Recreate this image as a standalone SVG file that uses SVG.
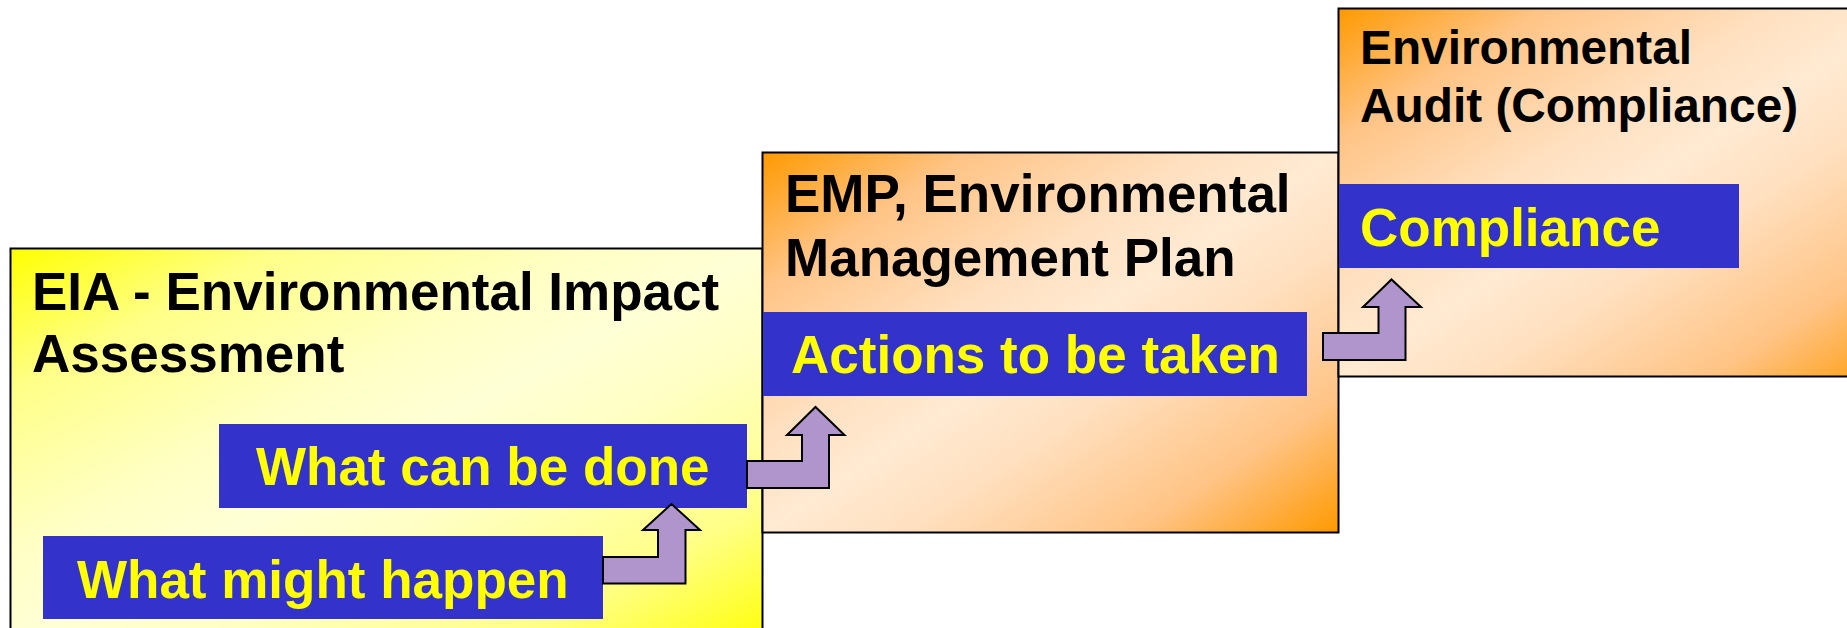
<svg xmlns="http://www.w3.org/2000/svg" width="1847" height="628" viewBox="0 0 1847 628">
<defs>
<linearGradient id="gYellow" x1="0" y1="0" x2="1" y2="1">
<stop offset="0" stop-color="#FFFF00"/>
<stop offset="0.18" stop-color="#FFFF88"/>
<stop offset="0.38" stop-color="#FFFFC4"/>
<stop offset="0.5" stop-color="#FFFFD6"/>
<stop offset="0.62" stop-color="#FFFFC4"/>
<stop offset="0.82" stop-color="#FFFF88"/>
<stop offset="1" stop-color="#FFFF00"/>
</linearGradient>
<linearGradient id="gOrange" x1="0" y1="0" x2="1" y2="1">
<stop offset="0" stop-color="#FF9900"/>
<stop offset="0.18" stop-color="#FFC486"/>
<stop offset="0.38" stop-color="#FFE0C0"/>
<stop offset="0.5" stop-color="#FFEAD2"/>
<stop offset="0.62" stop-color="#FFE0C0"/>
<stop offset="0.82" stop-color="#FFC486"/>
<stop offset="1" stop-color="#FF9900"/>
</linearGradient>
</defs>
<style>
.box{stroke:#000;stroke-width:2}
.title{font-family:"Liberation Sans",Arial,sans-serif;font-weight:bold;fill:#000}
.lbl{fill:#3333CC}
.lt{font-family:"Liberation Sans",Arial,sans-serif;font-weight:bold;font-size:53px;fill:#FFFF00}
.arrow{fill:#B094CC;stroke:#000;stroke-width:2;stroke-linejoin:miter}
</style>
<rect width="1847" height="628" fill="#FFFFFF"/>
<g id="eia">
<rect class="box" x="10.5" y="248.5" width="752" height="400" fill="url(#gYellow)"/>
<text class="title" font-size="53" x="32" y="310">EIA - Environmental Impact</text>
<text class="title" font-size="53" x="32" y="372">Assessment</text>
</g>
<g id="emp">
<rect class="box" x="762.5" y="152.5" width="576" height="380" fill="url(#gOrange)"/>
<text class="title" font-size="53" x="785" y="212">EMP, Environmental</text>
<text class="title" font-size="53" x="785" y="276">Management Plan</text>
</g>
<g id="audit">
<rect class="box" x="1338.5" y="8.5" width="576" height="368" fill="url(#gOrange)"/>
<text class="title" font-size="47.8" x="1360" y="64">Environmental</text>
<text class="title" font-size="47.8" x="1360" y="122">Audit (Compliance)</text>
</g>
<g id="might">
<rect class="lbl" x="43" y="536" width="560" height="83"/>
<text class="lt" x="77" y="598">What might happen</text>
</g>
<g id="cando">
<rect class="lbl" x="219" y="424" width="528" height="84"/>
<text class="lt" x="256" y="485">What can be done</text>
</g>
<g id="actions">
<rect class="lbl" x="763" y="312" width="544" height="84"/>
<text class="lt" x="791" y="373">Actions to be taken</text>
</g>
<g id="compliance">
<rect class="lbl" x="1339" y="184" width="400" height="84"/>
<text class="lt" x="1360" y="246">Compliance</text>
</g>
<g id="connectors">
<path class="arrow" d="M603,557 L658,557 L658,530 L643,530 L671.5,504 L700,530 L685.5,530 L685.5,583.5 L603,583.5 Z"/>
<path class="arrow" d="M747,461 L802,461 L802,435 L787,435 L815.5,407 L844.5,435 L829,435 L829,488 L747,488 Z"/>
<path class="arrow" d="M1323,333 L1378.5,333 L1378.5,307 L1363,307 L1391.5,279.5 L1421,307 L1405.5,307 L1405.5,360 L1323,360 Z"/>
</g>
</svg>
